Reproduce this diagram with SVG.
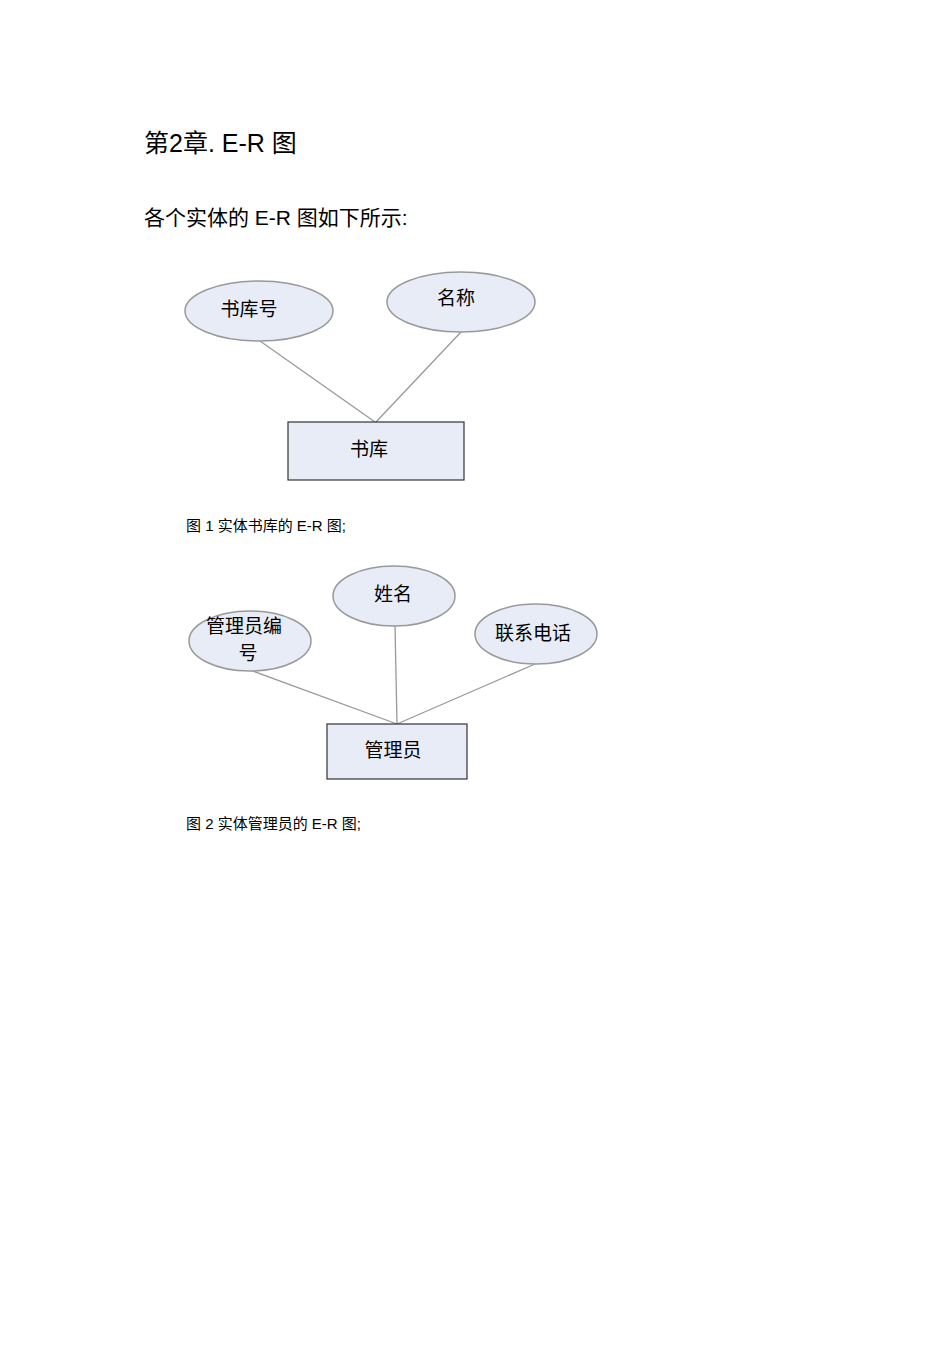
<svg xmlns="http://www.w3.org/2000/svg" width="950" height="1345" viewBox="0 0 950 1345">
<style>
text{font-family:"Liberation Sans","Noto Sans CJK SC",sans-serif;fill:#000}
.e{fill:#e8ecf6;stroke:#999;stroke-width:1.5}
.r{fill:#e8ecf6;stroke:#333;stroke-width:1.2}
.c line{stroke:#999;stroke-width:1.3}
.l{font-size:19px;text-anchor:middle}
.cap{font-size:15px}
</style>
<rect width="950" height="1345" fill="#fff"/>
<text x="144" y="152" font-size="25">第2章.  E-R 图</text>
<text x="144" y="225" font-size="21">各个实体的   E-R 图如下所示:</text>
<g class="c">
<line x1="260" y1="341" x2="375" y2="422"/>
<line x1="461" y1="332" x2="376" y2="422"/>
<line x1="250" y1="670" x2="397" y2="724"/>
<line x1="395" y1="625" x2="397" y2="724"/>
<line x1="535" y1="664" x2="397" y2="724"/>
</g>
<g id="n1"><ellipse class="e" cx="259" cy="311" rx="74" ry="30"/><text class="l" x="249" y="316">书库号</text></g>
<g id="n2"><ellipse class="e" cx="461" cy="302" rx="74" ry="30"/><text class="l" x="456" y="305">名称</text></g>
<g id="n3"><rect class="r" x="288" y="422" width="176" height="58"/><text class="l" x="369" y="456">书库</text></g>
<text class="cap" x="186" y="531">图 1  实体书库的   E-R 图;</text>
<g id="n4"><ellipse class="e" cx="394" cy="596" rx="61" ry="30"/><text class="l" x="393" y="601">姓名</text></g>
<g id="n5"><ellipse class="e" cx="250" cy="641" rx="61" ry="30"/><text class="l" x="244" y="633">管理员编</text><text class="l" x="248" y="660">号</text></g>
<g id="n6"><ellipse class="e" cx="536" cy="634" rx="61" ry="30"/><text class="l" x="533" y="640">联系电话</text></g>
<g id="n7"><rect class="r" x="327" y="724" width="140" height="55"/><text class="l" x="393" y="757">管理员</text></g>
<text class="cap" x="186" y="829">图 2  实体管理员的   E-R 图;</text>
</svg>
